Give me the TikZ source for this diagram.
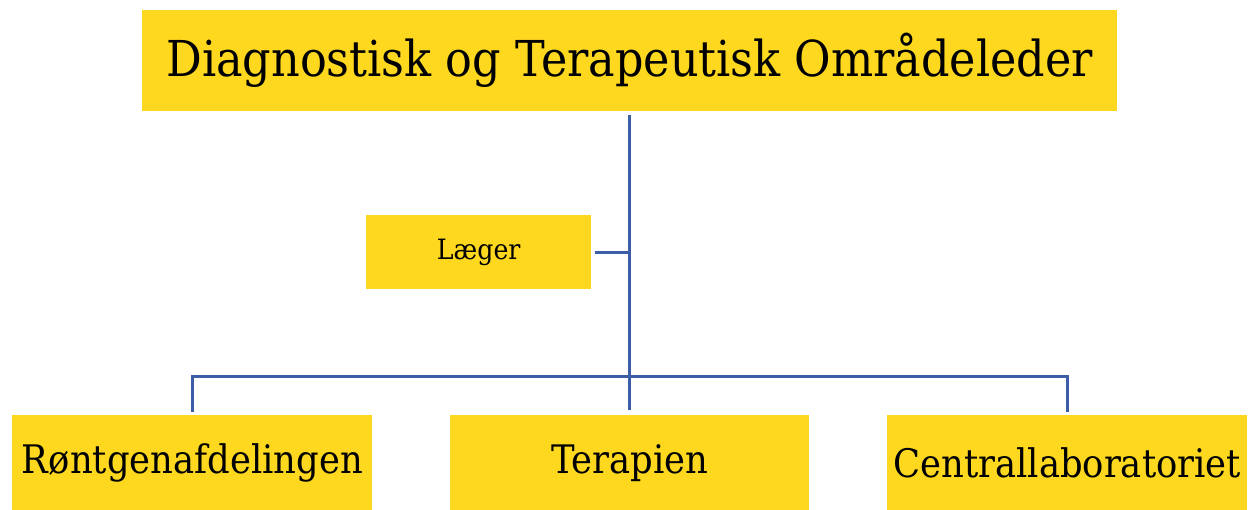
\documentclass[tikz,border=0pt]{standalone}
\usepackage{fontspec}
\setmainfont{DejaVu Serif Condensed}
\definecolor{boxy}{HTML}{FDD81F}
\definecolor{linb}{HTML}{3B5EA6}
\begin{document}
\begin{tikzpicture}[x=1pt,y=-1pt,
  box/.style={fill=boxy, draw=none, inner sep=0pt, anchor=north west, text=black},
  conn/.style={draw=linb, line width=3pt}]
\useasboundingbox (0,0) rectangle (1254,510);
\node[box, minimum width=975pt, minimum height=101pt, font=\fontsize{49.5}{54}\selectfont] (top) at (142,10) {Diagnostisk og Terapeutisk Områdeleder};
\node[box, minimum width=225pt, minimum height=74pt, font=\fontsize{28}{32}\selectfont] (laeger) at (366,215) {\raisebox{-1.5pt}{Læger}};
\node[box, minimum width=360pt, minimum height=95pt, font=\fontsize{39.3}{43}\selectfont] (ront) at (12,415) {\raisebox{-4pt}{Røntgenafdelingen}};
\node[box, minimum width=359pt, minimum height=95pt, font=\fontsize{39.3}{43}\selectfont] (tera) at (450,415) {\raisebox{-4pt}{Terapien}};
\node[box, minimum width=360pt, minimum height=95pt, font=\fontsize{39.3}{43}\selectfont] (central) at (887,415) {\raisebox{-1pt}{Centrallaboratoriet}};
\coordinate (hb) at (629.5,377);
\draw[conn] ([yshift=-4pt]top.south) -- ([yshift=5pt]tera.north);
\draw[conn] ([yshift=3pt]ront.north) -- (ront.north |- hb) -- (central.north |- hb) -- ([yshift=3pt]central.north);
\draw[conn] ([xshift=4pt]laeger.east) -- (laeger.east -| top.south);
\end{tikzpicture}
\end{document}
